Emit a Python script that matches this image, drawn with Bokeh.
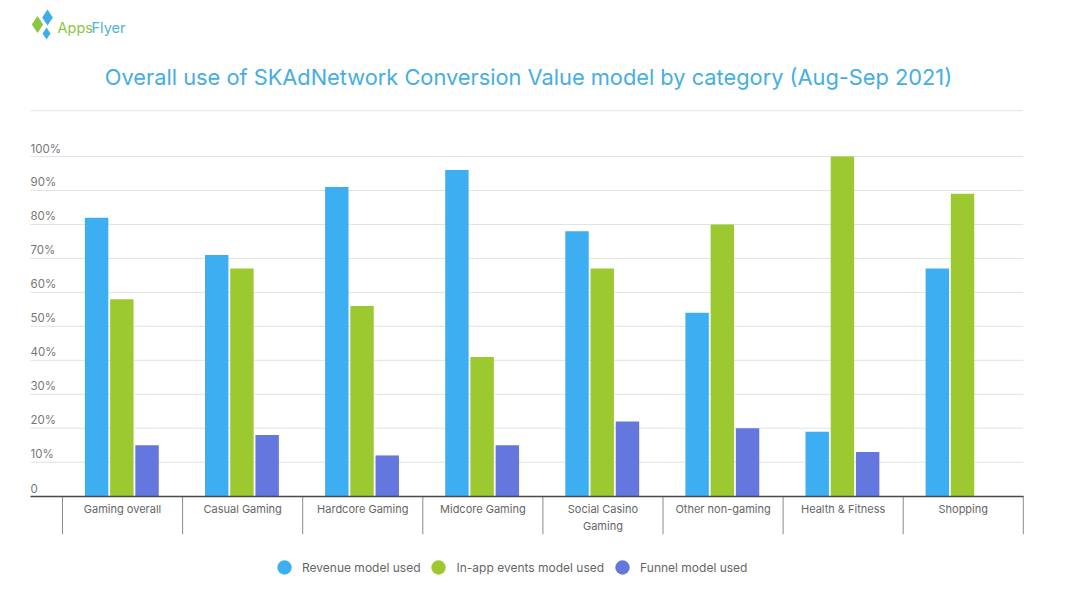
import numpy as np
import pandas as pd
from bokeh.plotting import figure
from bokeh.models import (ColumnDataSource, Range1d, LinearAxis, FixedTicker,
                          Legend, LegendItem)
from bokeh.transform import dodge
from bokeh.core.properties import value
from bokeh.embed import file_html
from bokeh.resources import INLINE

# ---------------- data ----------------
categories = ["Gaming overall", "Casual Gaming", "Hardcore Gaming", "Midcore Gaming",
              "Social Casino\nGaming", "Other non-gaming", "Health & Fitness", "Shopping"]
revenue = [82, 71, 91, 96, 78, 54, 19, 67]
in_app = [58, 67, 56, 41, 67, 80, 100, 89]
funnel = [15, 18, 12, 15, 22, 20, 13, np.nan]
series_names = ["Revenue model used", "In-app events model used", "Funnel model used"]
y_ticks = [0, 10, 20, 30, 40, 50, 60, 70, 80, 90, 100]
y_tick_labels = ["0", "10%", "20%", "30%", "40%", "50%", "60%", "70%", "80%", "90%", "100%"]
title_text = "Overall use of SKAdNetwork Conversion Value model by category (Aug-Sep 2021)"

# ---------------- style ----------------
colors = ["#3DAEF2", "#9BC92F", "#6377DE"]
offsets = [-0.216, -0.006, 0.204]
FONT = "Inter"
W, H = 1072, 590
PX_PER_CAT = 120.1
PX_PER_PCT = 3.397
xs = -62 / PX_PER_CAT
xe = xs + W / PX_PER_CAT
ye = 495.7 / PX_PER_PCT
ys = ye - H / PX_PER_PCT
x_left = -32 / PX_PER_CAT
top_line = 113.5
sep_len = 38 / PX_PER_PCT


def px2x(px):
    return xs + px / PX_PER_CAT


def py2y(py):
    return ye - py / PX_PER_PCT


df = pd.DataFrame({
    "x": np.arange(len(categories)) + 0.5,
    "revenue": revenue,
    "in_app": in_app,
    "funnel": funnel,
})
src = ColumnDataSource(df)

p = figure(width=W, height=H, x_range=Range1d(xs, xe), y_range=Range1d(ys, ye),
           x_axis_type=None, y_axis_type=None, toolbar_location=None,
           output_backend="svg", min_border=0, outline_line_color=None)
p.background_fill_color = "white"

# grid lines
grid_levels = y_ticks[1:] + [top_line]
p.segment(x0=[x_left] * len(grid_levels), y0=grid_levels,
          x1=[len(categories)] * len(grid_levels), y1=grid_levels,
          line_color="#e2e2e2", line_width=1)

# y tick labels (drawn inside the plot, above each grid line)
p.text(x=[x_left] * len(y_ticks), y=y_ticks, text=y_tick_labels,
       text_baseline="middle", text_align="left", y_offset=-8,
       text_font=value(FONT), text_font_size="11.5px", text_color="#777777")

# bars
cols = ["revenue", "in_app", "funnel"]
for col, c, off in zip(cols, colors, offsets):
    p.vbar(x=dodge("x", off), top=col, width=0.195, bottom=0, source=src,
           fill_color=c, line_color=None)

# category separators below the axis
bounds_x = list(range(len(categories) + 1))
p.segment(x0=bounds_x, y0=[0] * len(bounds_x), x1=bounds_x, y1=[-sep_len] * len(bounds_x),
          line_color="#8a8a8a", line_width=1)

# x axis with category labels
centers = list(df["x"])
xaxis = LinearAxis(
    fixed_location=0, bounds=(x_left, len(categories)),
    ticker=FixedTicker(ticks=centers, minor_ticks=[]),
    major_label_overrides={float(c): lab for c, lab in zip(centers, categories)},
    axis_line_color="#4a4a4a", axis_line_width=1.6,
    major_tick_line_color=None, major_tick_in=0, major_tick_out=0,
    minor_tick_line_color=None,
    major_label_standoff=6, major_label_text_font=FONT,
    major_label_text_font_size="11px", major_label_text_color="#666666",
)
p.add_layout(xaxis, "below")

# title
p.text(x=[px2x(528)], y=[py2y(76)], text=[title_text], text_align="center",
       text_baseline="middle", text_font=value(FONT), text_font_size="21.8px",
       text_color="#45AEE3")

# logo
p.scatter(x=[px2x(37), px2x(47), px2x(46)], y=[py2y(24), py2y(17), py2y(33)],
          marker="diamond", size=[17, 16, 12],
          fill_color=["#8CC63F", "#3DAEE9", "#3DAEE9"], line_color=None)
p.text(x=[px2x(57)], y=[py2y(27)], text=["Apps"], text_baseline="middle",
       text_font=value(FONT), text_font_size="14.5px", text_color="#8CC63F")
p.text(x=[px2x(91)], y=[py2y(27)], text=["Flyer"], text_baseline="middle",
       text_font=value(FONT), text_font_size="14.5px", text_color="#4DB5D0")

# legend (circle markers)
items = []
for name, c in zip(series_names, colors):
    r = p.scatter(x=[np.nan], y=[np.nan], marker="circle", size=15,
                  fill_color=c, line_color=None)
    items.append(LegendItem(label=name, renderers=[r]))
legend = Legend(items=items, orientation="horizontal", location=(266, 5),
                glyph_width=36, glyph_height=36, label_standoff=-1, spacing=-2,
                padding=0, margin=0, border_line_color=None,
                background_fill_alpha=0, label_text_font=FONT,
                label_text_font_size="12px", label_text_color="#666666")
p.add_layout(legend)

open("out.html", "w").write(file_html(p, INLINE))
